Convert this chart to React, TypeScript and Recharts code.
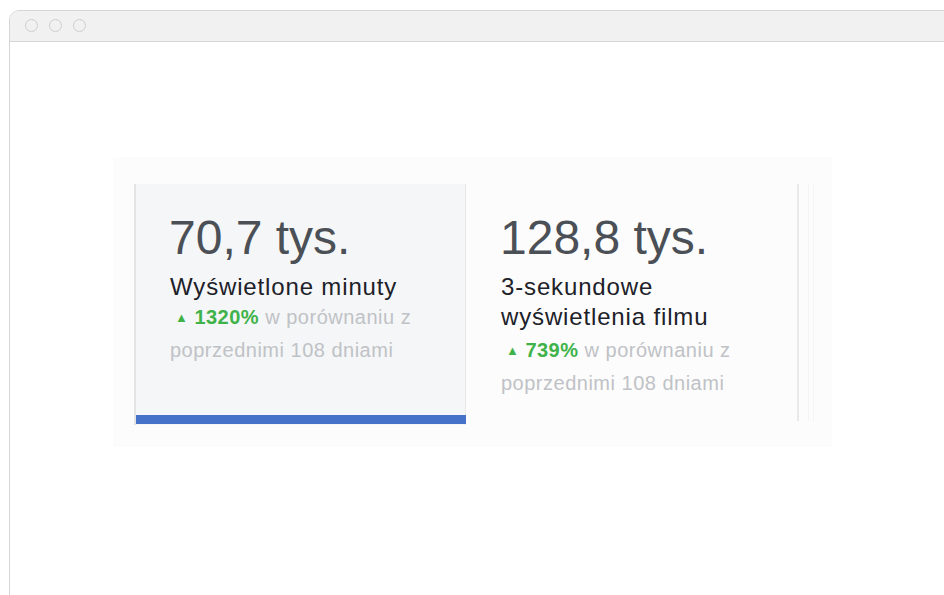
import React from "react";
import { BarChart, Bar, XAxis, YAxis } from "recharts";

const metricValues = ["70,7 tys.", "128,8 tys."];
const metricTitles = [["Wyświetlone minuty"], ["3-sekundowe", "wyświetlenia filmu"]];
const metricChanges = ["1320%", "739%"];
const comparisonText = ["w porównaniu z", "poprzednimi 108 dniami"];
const selectedProgress = [{ name: "Wyświetlone minuty", progress: 1 }];

const FONT = '"Liberation Sans", Arial, Helvetica, sans-serif';

function abs(left: number, top: number, extra: React.CSSProperties = {}): React.CSSProperties {
  return { position: "absolute", left, top, ...extra };
}

function Card({ idx, left }: { idx: number; left: number }) {
  const titleLines = metricTitles[idx];
  const changeTop = 272 + titleLines.length * 30 + (titleLines.length - 1) * 3;
  return (
    <>
      <div
        style={abs(left - 1, 214, {
          fontSize: 48,
          lineHeight: "48px",
          color: "#4b4f56",
          whiteSpace: "nowrap",
        })}
      >
        {metricValues[idx]}
      </div>
      <div
        style={abs(left, 272, {
          fontSize: 24,
          lineHeight: "30px",
          color: "#1d2129",
          letterSpacing: "0.85px",
          whiteSpace: "nowrap",
        })}
      >
        {titleLines.map((t, i) => (
          <div key={i}>{t}</div>
        ))}
      </div>
      <div
        style={abs(left, changeTop, {
          fontSize: 20,
          lineHeight: "30px",
          color: "#bfc2c6",
          letterSpacing: "0.5px",
          whiteSpace: "nowrap",
        })}
      >
        <div>
          <span style={{ color: "#3fb34a", fontSize: 13, marginLeft: 5, marginRight: 6, position: "relative", top: -2 }}>▲</span>
          <span style={{ color: "#3fb34a", fontWeight: 700 }}>{metricChanges[idx]}</span>{" "}
          {comparisonText[0]}
        </div>
        <div>{comparisonText[1]}</div>
      </div>
    </>
  );
}

export default function App() {
  return (
    <div
      style={{
        position: "absolute",
        left: 0,
        top: 0,
        width: 944,
        height: 595,
        overflow: "hidden",
        background: "#ffffff",
        fontFamily: FONT,
      }}
    >
      {/* browser frame */}
      <div
        style={abs(9, 10, {
          width: 960,
          height: 620,
          border: "1.5px solid #d6d6d6",
          borderTopLeftRadius: 10,
          boxSizing: "border-box",
          overflow: "hidden",
        })}
      >
        <div
          style={{
            height: 30,
            background: "#f1f1f1",
            borderBottom: "1.5px solid #d6d6d6",
            position: "relative",
          }}
        >
          {[21, 45, 69].map((x) => (
            <div
              key={x}
              style={abs(x - 6, 8, {
                width: 11,
                height: 11,
                borderRadius: "50%",
                border: "1.2px solid #cdcdcd",
              })}
            />
          ))}
        </div>
      </div>

      {/* panel */}
      <div style={abs(113, 157, { width: 719, height: 290, background: "#fcfcfc" })} />
      <div
        style={abs(134, 184, {
          width: 332,
          height: 241,
          background: "#f5f6f7",
          borderLeft: "2px solid #e4e4e4",
          borderRight: "1px solid #e8e8e8",
          boxSizing: "border-box",
        })}
      />
      <div style={abs(797, 184, { width: 2, height: 237, background: "#e9e9e9" })} />
      <div style={abs(808, 184, { width: 1, height: 237, background: "#f4f4f4" })} />
      <div style={abs(813, 184, { width: 1, height: 237, background: "#f4f4f4" })} />

      <div style={abs(136, 415)}>
        <BarChart
          width={330}
          height={9}
          data={selectedProgress}
          layout="vertical"
          margin={{ top: 0, right: 0, bottom: 0, left: 0 }}
          barCategoryGap={0}
        >
          <XAxis type="number" domain={[0, 1]} hide />
          <YAxis type="category" dataKey="name" hide />
          <Bar dataKey="progress" fill="#4672c9" isAnimationActive={false} />
        </BarChart>
      </div>

      <Card idx={0} left={170} />
      <Card idx={1} left={501} />
    </div>
  );
}
